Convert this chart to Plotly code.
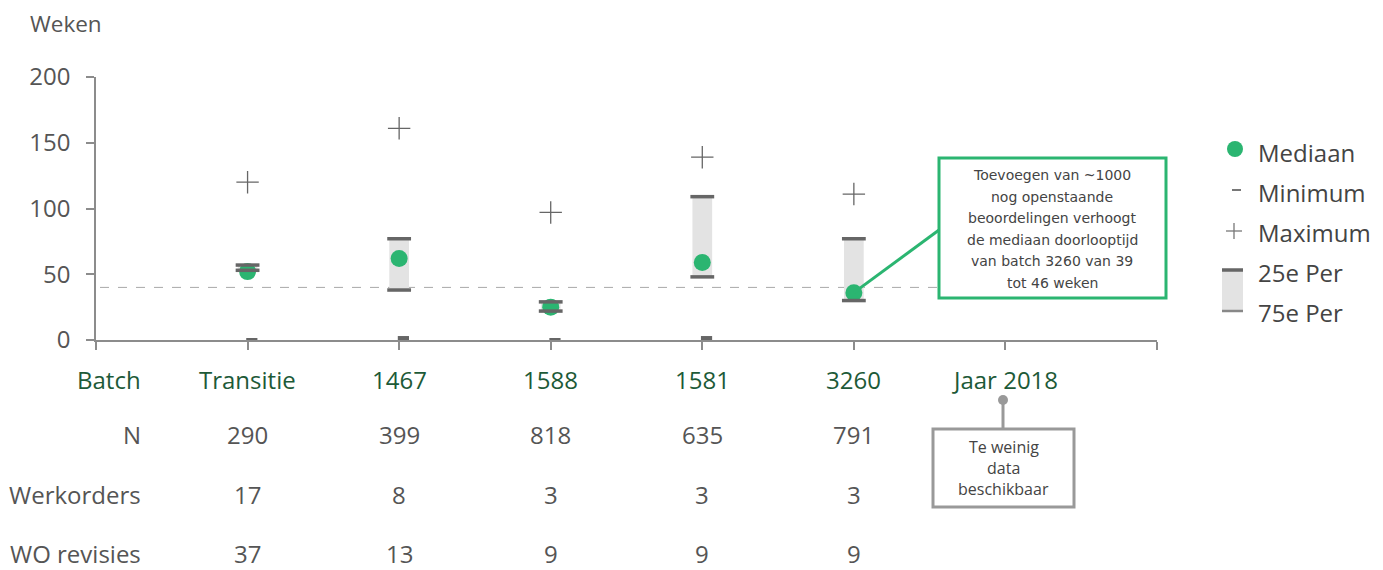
import plotly.graph_objects as go

# ---------------- data ----------------
categories = ["Transitie", "1467", "1588", "1581", "3260", "Jaar 2018"]
median_vals = [52, 62, 25, 59, 36]
min_vals = [0, 1.5, 0, 1.5, None]
max_vals = [120, 161, 97, 139, 111]
p25_vals = [53, 38, 22, 48, 30]
p75_vals = [57, 77, 29, 109, 77]
n_vals = [290, 399, 818, 635, 791]
werkorders = [17, 8, 3, 3, 3]
wo_revisies = [37, 13, 9, 9, 9]
threshold = 40
y_ticks = [0, 50, 100, 150, 200]
row_labels = ["N", "Werkorders", "WO revisies"]
legend_labels = ["Mediaan", "Minimum", "Maximum", "25e Per", "75e Per"]
note_3260 = ["Toevoegen van ~1000", "nog openstaande", "beoordelingen verhoogt",
             "de mediaan doorlooptijd", "van batch 3260 van 39", "tot 46 weken"]
note_2018 = ["Te weinig", "data", "beschikbaar"]

# ---------------- styling ----------------
FONT = "Open Sans"
NOTE_FONT = "DejaVu Sans"
GREEN = "#2BB571"
DARK_GREEN = "#1D5A38"
GREY_TXT = "#555555"
AXIS = "#8C8C8C"
BAR_DARK = "#666666"
BOX_FILL = "#E3E3E3"

# page body has an 8px margin -> shrink figure and margins accordingly
W, H = 1375, 562
L, R, T, B = 88, 226, 69, 230
PL, PT, PW, PH = 96, 77, 1061, 263   # plot area in screen pixels


def PX(px):
    return (px - PL) / PW


def PY(py):
    return (PT + PH - py) / PH


def DX(px):
    return PX(px) * 7 - 1


def DY(py):
    return PY(py) * 200


def txt(x, y, text, size, color, xanchor="center", xref="paper", family=FONT):
    return dict(xref=xref, yref="paper", x=x, y=y, text=text, showarrow=False,
                xanchor=xanchor, yanchor="middle", borderpad=0,
                font=dict(family=family, size=size, color=color))


idx = list(range(len(median_vals)))

fig = go.Figure()

# IQR box
fig.add_trace(go.Bar(
    x=idx, y=[b - a for a, b in zip(p25_vals, p75_vals)], base=p25_vals,
    width=0.13, marker=dict(color=BOX_FILL, line=dict(width=0)),
    hoverinfo="skip"))

# median
fig.add_trace(go.Scatter(
    x=idx, y=median_vals, mode="markers",
    marker=dict(symbol="circle", size=17, color=GREEN), cliponaxis=False))

# quartile caps
fig.add_trace(go.Scatter(
    x=idx + idx, y=p25_vals + p75_vals, mode="markers",
    marker=dict(symbol="line-ew", size=17, line=dict(width=3.5, color=BAR_DARK)),
    cliponaxis=False))

# max
fig.add_trace(go.Scatter(
    x=idx, y=max_vals, mode="markers",
    marker=dict(symbol="cross-thin", size=16, line=dict(width=1.3, color=BAR_DARK)),
    cliponaxis=False))

# min
fig.add_trace(go.Scatter(
    x=[i + 0.028 for i in idx], y=min_vals, mode="markers",
    marker=dict(symbol="line-ew", size=8, line=dict(width=4, color=BAR_DARK)),
    cliponaxis=False))

shapes = []
annotations = []

# threshold dashed line
shapes.append(dict(type="line", xref="x", yref="y", x0=DX(100), x1=6, y0=threshold, y1=threshold,
                   line=dict(color="#A8A8A8", width=1, dash="dash"), layer="below"))

# green note connector + box
shapes.append(dict(type="line", xref="x", yref="y", x0=idx[4], y0=median_vals[4],
                   x1=DX(939), y1=DY(230),
                   line=dict(color=GREEN, width=3), layer="above"))
shapes.append(dict(type="rect", xref="paper", yref="paper",
                   x0=PX(939), x1=PX(1166), y0=PY(298), y1=PY(158),
                   line=dict(color=GREEN, width=3), fillcolor="white", layer="above"))
for k, line in enumerate(note_3260):
    annotations.append(txt(PX(1052), PY(175 + 21.6 * k), line, 14, "#444444",
                           family=NOTE_FONT))

# grey note for 2018
shapes.append(dict(type="circle", xref="paper", yref="paper",
                   x0=PX(998), x1=PX(1008), y0=PY(405), y1=PY(395),
                   fillcolor="#999999", line=dict(width=0)))
shapes.append(dict(type="line", xref="paper", yref="paper",
                   x0=PX(1003), x1=PX(1003), y0=PY(400), y1=PY(429),
                   line=dict(color="#999999", width=3)))
shapes.append(dict(type="rect", xref="paper", yref="paper",
                   x0=PX(933), x1=PX(1074), y0=PY(507), y1=PY(429),
                   line=dict(color="#999999", width=3), fillcolor="white"))
for k, line in enumerate(note_2018):
    annotations.append(txt(PX(1003.5), PY(447 + 21 * k), line, 16, "#444444"))

# y-axis title
annotations.append(txt(PX(29), PY(24), "Weken", 22.5, GREY_TXT, xanchor="left"))

# table
annotations.append(txt(PX(142), PY(379), "Batch", 24, DARK_GREEN, xanchor="right"))
for i, c in enumerate(categories):
    annotations.append(txt(i, PY(379), c, 24, DARK_GREEN, xref="x"))
rows = [n_vals, werkorders, wo_revisies]
row_y = [435, 494, 553]
for lab, vals, yy in zip(row_labels, rows, row_y):
    annotations.append(txt(PX(142), PY(yy), lab, 24, GREY_TXT, xanchor="right"))
    for i, v in enumerate(vals):
        annotations.append(txt(i, PY(yy), str(v), 24, GREY_TXT, xref="x"))

# custom legend
leg_y = [152, 192, 232, 272, 312]
for lab, yy in zip(legend_labels, leg_y):
    annotations.append(txt(PX(1257), PY(yy), lab, 24, "#444444", xanchor="left"))
shapes.append(dict(type="circle", xref="paper", yref="paper",
                   x0=PX(1227), x1=PX(1243), y0=PY(157), y1=PY(141),
                   fillcolor=GREEN, line=dict(width=0)))
shapes.append(dict(type="line", xref="paper", yref="paper",
                   x0=PX(1232), x1=PX(1241), y0=PY(190), y1=PY(190),
                   line=dict(color="#777777", width=2)))
shapes.append(dict(type="line", xref="paper", yref="paper",
                   x0=PX(1226), x1=PX(1242), y0=PY(231), y1=PY(231),
                   line=dict(color="#777777", width=1.3)))
shapes.append(dict(type="line", xref="paper", yref="paper",
                   x0=PX(1234), x1=PX(1234), y0=PY(223), y1=PY(239),
                   line=dict(color="#777777", width=1.3)))
shapes.append(dict(type="rect", xref="paper", yref="paper",
                   x0=PX(1222), x1=PX(1243), y0=PY(311), y1=PY(270),
                   fillcolor=BOX_FILL, line=dict(width=0)))
shapes.append(dict(type="line", xref="paper", yref="paper",
                   x0=PX(1222), x1=PX(1243), y0=PY(270), y1=PY(270),
                   line=dict(color=BAR_DARK, width=3.5)))
shapes.append(dict(type="line", xref="paper", yref="paper",
                   x0=PX(1222), x1=PX(1243), y0=PY(311), y1=PY(311),
                   line=dict(color="#888888", width=2.5)))

fig.update_layout(
    width=W, height=H,
    margin=dict(l=L, r=R, t=T, b=B, pad=0),
    paper_bgcolor="white", plot_bgcolor="white",
    showlegend=False,
    font=dict(family=FONT, color=GREY_TXT),
    shapes=shapes, annotations=annotations,
    xaxis=dict(range=[-1, 6], tickvals=list(range(-1, 7)), showticklabels=False,
               ticks="outside", ticklen=8, tickwidth=1.5, tickcolor=AXIS,
               showline=True, linecolor=AXIS, linewidth=1.5,
               showgrid=False, zeroline=False, fixedrange=True),
    yaxis=dict(range=[0, 200], tickvals=y_ticks, ticks="outside", ticklen=8,
               tickwidth=1.5, tickcolor=AXIS, showline=True, linecolor=AXIS, linewidth=1.5,
               tickfont=dict(family=FONT, size=24, color=GREY_TXT), ticklabelstandoff=11,
               showgrid=False, zeroline=False, fixedrange=True),
)

fig.write_html("out.html")
